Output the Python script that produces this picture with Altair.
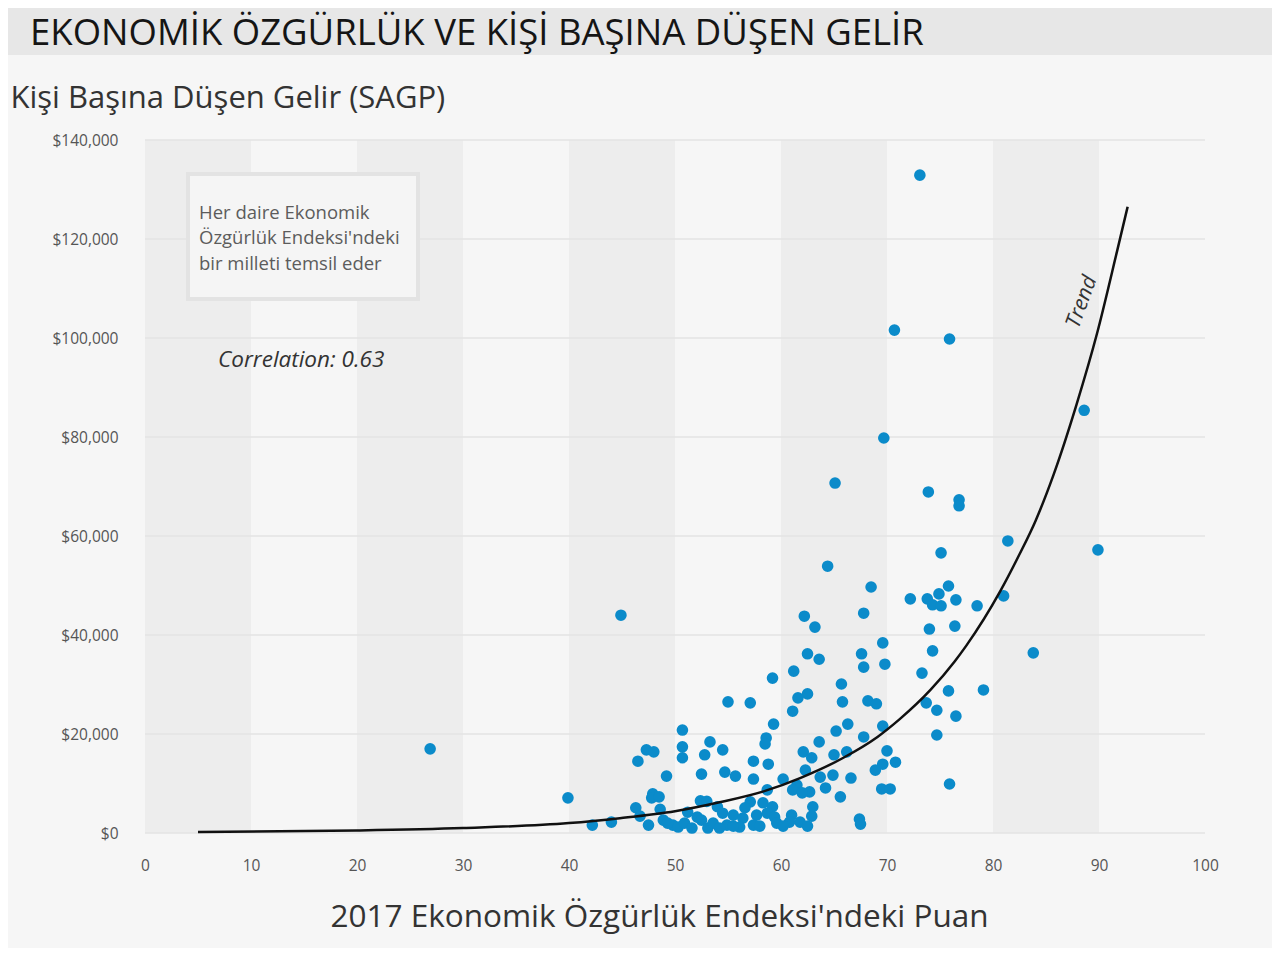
import altair as alt
import pandas as pd

# ---- data ----
score = [26.9, 39.9, 44.9, 73.1, 70.7, 75.9, 88.6, 69.7, 65.1, 73.9, 76.8, 76.8, 81.4, 89.9, 75.1, 64.4,
         83.8, 81.0, 78.5, 79.1, 75.9,
         68.5, 75.8, 72.2, 73.8, 74.9, 74.3, 75.1, 76.5, 62.2, 63.2, 67.8, 74.0, 76.4, 69.6, 74.3, 62.5,
         63.6, 67.6, 67.8, 69.8, 73.3, 65.7, 62.5, 75.8,
         61.2, 59.2,
         65.8, 68.2, 69.0, 73.7, 66.3, 65.2, 69.6, 67.8, 63.6, 62.1, 62.9, 65.0, 66.2, 70.0, 69.6, 70.8,
         68.9, 62.3, 66.6, 63.7, 64.9, 69.5, 70.3, 65.6, 63.0, 62.9, 67.4, 67.5, 62.7, 64.2,
         74.7, 76.5, 74.7,
         55.0, 57.1, 61.6, 61.1, 59.3, 58.6, 58.5, 50.7, 50.7, 50.7, 53.3, 52.8, 54.5, 57.4, 58.8, 52.5,
         54.7, 55.7, 57.4, 60.2, 58.7, 61.5, 52.4,
         47.3, 48.0, 46.5, 49.2, 47.9, 47.8, 48.5, 46.3, 48.6, 46.7, 42.2, 44.0, 47.5, 48.9, 49.8,
         49.3, 50.3, 50.9, 51.6, 52.1, 52.5, 53.0, 53.1, 53.6, 61.1, 62.0, 57.1, 54.0, 54.5, 58.3, 59.2,
         55.5, 56.4, 57.7, 58.7, 59.4, 59.6, 61.0, 60.8, 54.9, 56.1, 57.4, 56.6, 51.2, 54.2, 55.5, 58.0,
         60.2, 61.8, 62.5]
income = [17000, 7100, 44000, 132900, 101600, 99800, 85400, 79800, 70700, 68900, 67300, 66100, 59000, 57200, 56600, 53900,
          36400, 47900, 45900, 28900, 9900,
          49700, 49900, 47300, 47300, 48300, 46100, 45900, 47100, 43800, 41600, 44400, 41200, 41800, 38400, 36800, 36200,
          35100, 36200, 33500, 34100, 32300, 30100, 28100, 28700,
          32700, 31300,
          26500, 26700, 26100, 26300, 22000, 20600, 21600, 19400, 18400, 16400, 15200, 15800, 16400, 16600, 13900, 14300,
          12700, 12700, 11100, 11300, 11700, 8900, 8900, 7300, 5300, 3400, 2800, 1800, 8300, 9100,
          24800, 23600, 19800,
          26500, 26300, 27300, 24600, 22000, 19200, 18000, 20800, 17400, 15200, 18400, 15800, 16800, 14500, 13900, 11900,
          12300, 11500, 10900, 10900, 8700, 9700, 6500,
          16800, 16400, 14500, 11500, 7900, 7100, 7300, 5100, 4800, 3400, 1600, 2200, 1600, 2600, 1600,
          2000, 1200, 2000, 1000, 3200, 2600, 6400, 1000, 2000, 8700, 8100, 6300, 5300, 4000, 6100, 5300,
          3600, 3000, 3600, 4000, 3200, 2000, 3600, 2200, 1600, 1200, 1600, 5100, 4200, 1000, 1400, 1400,
          1400, 2200, 1400]

trend_score = [5, 20, 30, 40, 44.8, 50, 54.2, 58.5, 61.8, 65.8, 69.1, 71.2, 74.1, 76.4, 77.5, 80.7, 82.5, 84.0,
               85.7, 87.9, 89.8, 91.7, 92.7]
trend_income = [200, 500, 1000, 2000, 3000, 4400, 6200, 8500, 11100, 15100, 19400, 23000, 28900, 34700, 37900,
                48900, 56300, 63000, 72300, 86700, 100800, 117500, 126500]

band_start = [0, 20, 40, 60, 80]
band_end = [10, 30, 50, 70, 90]
grid_values = [0, 20000, 40000, 60000, 80000, 100000, 120000, 140000]
x_ticks = [0, 10, 20, 30, 40, 50, 60, 70, 80, 90, 100]

title_text = "EKONOMİK ÖZGÜRLÜK VE KİŞİ BAŞINA DÜŞEN GELİR"
y_title = "Kişi Başına Düşen Gelir (SAGP)"
x_title = "2017 Ekonomik Özgürlük Endeksi'ndeki Puan"
note_lines = ["Her daire Ekonomik", "Özgürlük Endeksi'ndeki", "bir milleti temsil eder"]
corr_text = "Correlation: 0.63"
trend_label = "Trend"

FONT = "Open Sans"
W, H = 1060, 693

pts = pd.DataFrame({"score": score, "income": income})
trend = pd.DataFrame({"score": trend_score, "income": trend_income})
bands = pd.DataFrame({"score": band_start, "e": band_end})
grid = pd.DataFrame({"income": grid_values})
one = pd.DataFrame({"a": [0]})

xs = alt.Scale(domain=[0, 100], nice=False)
ys = alt.Scale(domain=[0, 140000], nice=False)

x_axis = alt.Axis(values=x_ticks, title=x_title, titleFont=FONT, titleFontSize=31.5,
                  titleFontWeight="normal", titleColor="#333333",
                  titleX=659 - 145, titleY=917 - 833, titleBaseline="middle", titleAlign="center",
                  labelPadding=25, labelFontSize=15.5, labelFlush=False)
y_axis = alt.Axis(values=grid_values, format="$,.0f", title=y_title, titleAngle=0,
                  titleFont=FONT, titleFontSize=31, titleFontWeight="normal", titleColor="#333333",
                  titleX=10 - 145, titleY=98 - 140, titleAlign="left", titleBaseline="middle",
                  labelPadding=27, labelFontSize=15.5)

title_bar = alt.Chart(one).mark_rect(color="#e7e7e7").encode(
    x=alt.value(-137), x2=alt.value(1127), y=alt.value(-132), y2=alt.value(-85))

title = alt.Chart(one).mark_text(
    text=title_text, font=FONT, fontSize=36.5, color="#151515", align="left", baseline="middle"
).encode(x=alt.value(30 - 145), y=alt.value(34 - 140))

band_layer = alt.Chart(bands).mark_rect(color="#ededed").encode(
    x=alt.X("score:Q", scale=xs, axis=x_axis), x2="e:Q", y=alt.value(0), y2=alt.value(H))

grid_layer = alt.Chart(grid).mark_rule(color="#e3e3e3", strokeWidth=1.5).encode(
    y=alt.Y("income:Q", scale=ys, axis=y_axis), x=alt.value(0), x2=alt.value(W))

note_box = alt.Chart(one).mark_rect(fill="#f5f5f5", stroke="#e3e3e3", strokeWidth=4).encode(
    x=alt.value(188 - 145), x2=alt.value(418 - 145), y=alt.value(174 - 140), y2=alt.value(299 - 140))

note_df = pd.DataFrame({"t": note_lines, "yy": [213 - 140, 238 - 140, 264 - 140]})
note_text = alt.Chart(note_df).mark_text(
    font=FONT, fontSize=18.5, color="#5c5c5c", align="left", baseline="middle"
).encode(text="t:N", x=alt.value(199 - 145), y=alt.Y("yy:Q", scale=None))

corr = alt.Chart(one).mark_text(
    text=corr_text, font=FONT, fontSize=22.5, fontStyle="italic", color="#333333", align="left", baseline="middle"
).encode(x=alt.value(218 - 145), y=alt.value(360 - 140))

points = alt.Chart(pts).mark_circle(size=135, color="#0b8bca", opacity=1).encode(
    x=alt.X("score:Q", scale=xs, axis=x_axis),
    y=alt.Y("income:Q", scale=ys, axis=y_axis),
)

trend_line = alt.Chart(trend).mark_line(color="#111111", strokeWidth=2.5, interpolate="monotone").encode(
    x=alt.X("score:Q", scale=xs, axis=x_axis), y=alt.Y("income:Q", scale=ys, axis=y_axis))

trend_text = alt.Chart(one).mark_text(
    text=trend_label, font=FONT, fontSize=21, fontStyle="italic", color="#333333", angle=290,
    align="center", baseline="middle"
).encode(x=alt.value(1082 - 145), y=alt.value(302 - 140))

chart = alt.layer(
    title_bar, band_layer, grid_layer, note_box, note_text, corr, points, trend_line, trend_text, title
).properties(
    width=W, height=H, background="#f6f6f6",
    padding={"left": 137, "top": 132, "right": 67, "bottom": 115},
    autosize=alt.AutoSizeParams(type="none"),
).configure_view(stroke=None).configure_axis(
    domain=False, ticks=False, grid=False, labelFont=FONT, labelColor="#555555"
)

chart.save("out.html", embed_options={"renderer": "svg", "actions": False})
